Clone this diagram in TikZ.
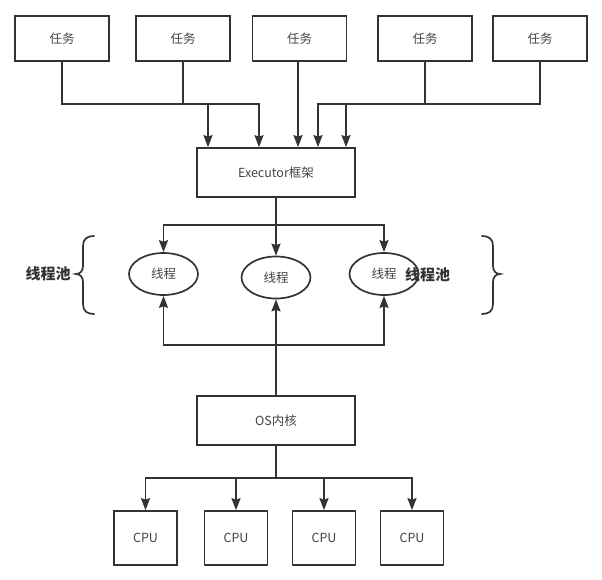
\documentclass[tikz,border=0pt]{standalone}
\usepackage{fontspec}
\setmainfont{Noto Sans CJK SC}
\usetikzlibrary{arrows.meta,shapes.geometric}
\definecolor{ln}{HTML}{333333}
\definecolor{tx}{HTML}{444444}
\tikzset{
  boxnode/.style={draw=ln, line width=1.7pt, rectangle, inner sep=0pt, text=tx, font=\fontsize{12.5}{14}\selectfont},
  tasknode/.style={boxnode, minimum width=94pt, minimum height=45pt},
  exnode/.style={boxnode, minimum width=158pt, minimum height=49pt},
  cpunode/.style={boxnode, minimum width=63pt, minimum height=54pt},
  thnode/.style={draw=ln, line width=1.7pt, ellipse, inner sep=0pt, minimum width=69pt, minimum height=42pt, text=tx, font=\fontsize{12.5}{14}\selectfont},
  poollabel/.style={text=ln, font=\fontsize{15}{17}\selectfont\bfseries, inner sep=0pt},
  conn/.style={draw=ln, line width=1.7pt},
  arr/.style={conn, -{Stealth[length=12pt, width=9pt, inset=1.5pt]}},
  bracestyle/.style={draw=ln, line width=1.7pt, line cap=round},
}
\begin{document}
\begin{tikzpicture}[x=1pt, y=-1pt]
\useasboundingbox (0,0) rectangle (602,579);
\fill[white] (0,0) rectangle (602,579);

% task boxes
\node[tasknode] (t1) at (62,38.5) {任务};
\node[tasknode] (t2) at (183,38.5) {任务};
\node[tasknode] (t3) at (299.5,38.5) {任务};
\node[tasknode] (t4) at (425,38.5) {任务};
\node[tasknode] (t5) at (540,38.5) {任务};

% executor
\node[exnode] (ex) at (276,172.5) {Executor框架};

% threads
\node[thnode] (th1) at (163.5,274) {线程};
\node[thnode] (th2) at (276,277.5) {线程};
\node[thnode] (th3) at (384,274) {线程};

% OS
\node[exnode] (os) at (276,420.5) {OS内核};

% CPUs
\node[cpunode] (c1) at (145.5,538) {CPU};
\node[cpunode] (c2) at (236,538) {CPU};
\node[cpunode] (c3) at (324,538) {CPU};
\node[cpunode] (c4) at (412,538) {CPU};

% pool labels
\node[poollabel] (pl) at (48,274) {线程池};
\node[poollabel] (pr) at (427.5,274.5) {线程池};

% junction coordinates
\coordinate (j1) at (259,104);
\coordinate (j2) at (208,104);
\coordinate (j3) at (298,104);
\coordinate (j4) at (346,104);
\coordinate (j5) at (318,104);
\coordinate (k1) at (163.5,225);
\coordinate (k3) at (384,225);
\coordinate (m1) at (163.5,345);
\coordinate (m3) at (384,345);
\coordinate (n1) at (145.5,478);
\coordinate (n2) at (236,478);
\coordinate (n3) at (324,478);
\coordinate (n4) at (412,478);

% tasks -> executor
\draw[arr] (t1.south) |- (j1) -- (j1 |- ex.north);
\draw[arr] (t2.south) |- (j2) -- (j2 |- ex.north);
\draw[arr] (t3.south -| j3) -- (j3 |- ex.north);
\draw[arr] (t4.south) |- (j4) -- (j4 |- ex.north);
\draw[arr] (t5.south) |- (j5) -- (j5 |- ex.north);

% executor -> threads
\draw[arr] (ex.south) -- (th2.north);
\draw[arr] (ex.south) |- (k1) -- (th1.north);
\draw[arr] (ex.south) |- (k3) -- (th3.north);

% OS -> threads
\draw[arr] (os.north) -- (th2.south);
\draw[arr] (os.north) |- (m1) -- (th1.south);
\draw[arr] (os.north) |- (m3) -- (th3.south);

% OS -> CPUs
\draw[arr] (os.south) |- (n1) -- (c1.north);
\draw[arr] (os.south) |- (n2) -- (c2.north);
\draw[arr] (os.south) |- (n3) -- (c3.north);
\draw[arr] (os.south) |- (n4) -- (c4.north);

% braces
\draw[bracestyle] (94,236) .. controls (87,236) and (83,239) .. (83,246) -- (83,266)
  .. controls (83,271) and (80,274) .. (76,274) .. controls (80,274) and (83,277) .. (83,282)
  -- (83,304) .. controls (83,311) and (87,314) .. (94,314);
\draw[bracestyle] (482,236) .. controls (489,236) and (493,239) .. (493,246) -- (493,266)
  .. controls (493,271) and (496,274) .. (500,274) .. controls (496,274) and (493,277) .. (493,282)
  -- (493,304) .. controls (493,311) and (489,314) .. (482,314);
\end{tikzpicture}
\end{document}
